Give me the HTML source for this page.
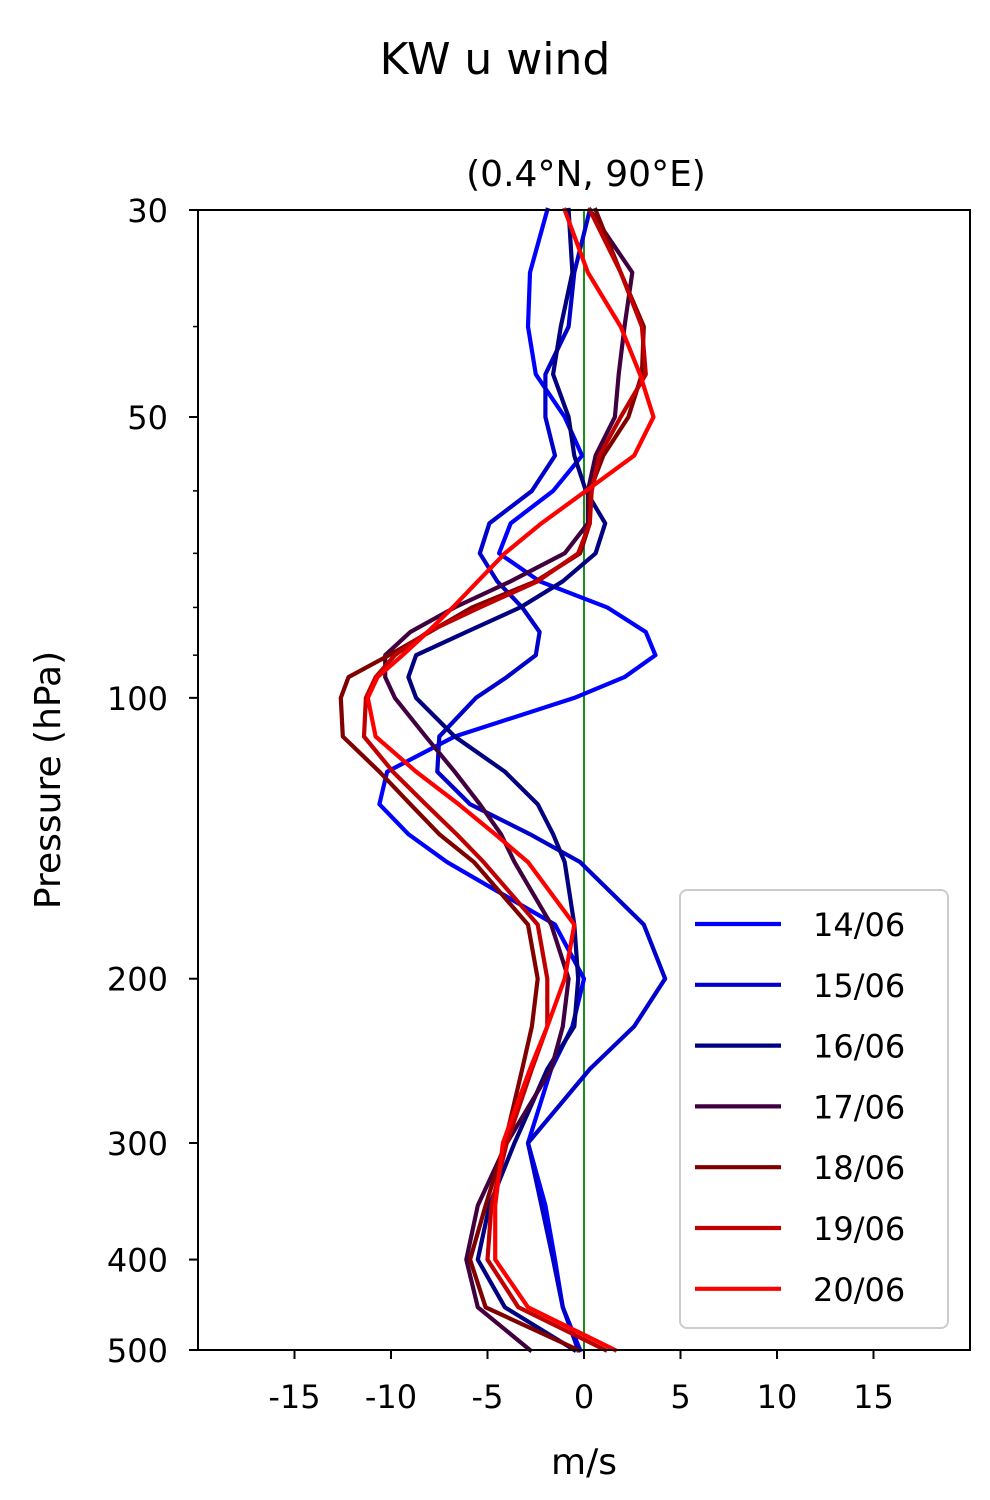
<!DOCTYPE html>
<html><head><meta charset="utf-8"><style>
body{margin:0;background:#fff;}
svg{display:block;font-family:"DejaVu Sans","Liberation Sans",sans-serif;}
</style></head><body>
<svg id="chart" width="990" height="1500" viewBox="0 0 990 1500">
<text x="495" y="74" font-size="44" text-anchor="middle">KW u wind</text>
<text x="586" y="186" font-size="36" text-anchor="middle">(0.4°N, 90°E)</text>
<text x="584" y="1474" font-size="36" text-anchor="middle">m/s</text>
<text transform="translate(60,780) rotate(-90)" font-size="36" text-anchor="middle">Pressure (hPa)</text>
<g id="plot"></g>
</svg>
<script>
const pressures=[30,35,40,45,50,55,60,65,70,75,80,85,90,95,100,110,120,130,140,150,175,200,225,250,300,350,400,450,500];
const dates=["14/06","15/06","16/06","17/06","18/06","19/06","20/06"];
const u14=[-1.9,-2.8,-2.9,-2.5,-1.0,-0.1,-1.6,-3.8,-4.4,-2.3,1.2,3.2,3.7,2.1,-0.5,-6.7,-10.2,-10.6,-9.1,-7.1,-1.5,0,-0.6,-1.7,-2.9,-2.0,-1.5,-1.1,-0.2];
const u15=[0.3,-0.5,-0.8,-2.0,-2.0,-1.5,-2.7,-4.9,-5.4,-4.5,-3.2,-2.3,-2.5,-4.0,-5.6,-7.5,-7.6,-5.9,-2.8,-0.2,3.1,4.2,2.6,0.3,-2.9,-2.2,-1.6,-1.1,-0.3];
const u16=[-0.8,-0.6,-1.2,-1.6,-0.8,-0.5,0.1,1.1,0.6,-1.1,-3.3,-6.1,-8.7,-9.1,-8.7,-6.7,-4.1,-2.4,-1.6,-1.0,-0.5,-0.3,-0.5,-1.9,-3.6,-4.9,-5.5,-4.1,-0.5];
const u17=[0.3,2.5,2.1,1.8,1.6,0.6,0.2,0.2,-1.0,-3.8,-6.7,-9.0,-10.3,-10.3,-9.8,-8.2,-6.7,-5.4,-4.3,-3.6,-1.7,-0.8,-1.1,-1.7,-4.0,-5.5,-6.1,-5.5,-2.8];
const u18=[0.6,1.9,3.1,3.0,2.3,1.0,0.3,0.3,-0.2,-2.5,-5.8,-8.0,-10.1,-12.2,-12.6,-12.5,-10.6,-9.0,-7.5,-5.7,-2.9,-2.4,-2.7,-3.2,-4.1,-5.1,-5.9,-5.1,-0.3];
const u19=[0.3,1.9,3.0,3.2,1.9,0.8,0.4,0.3,-0.3,-2.4,-5.4,-8.1,-9.8,-10.8,-11.3,-11.4,-9.9,-8.2,-6.6,-5.2,-2.4,-1.9,-1.9,-2.7,-4.0,-4.8,-5.0,-3.4,1.1];
const u20=[-1.0,0.2,1.9,2.9,3.6,2.6,0.1,-2.2,-4.1,-5.5,-6.8,-8.1,-9.4,-10.7,-11.2,-10.8,-8.7,-6.5,-4.6,-2.9,-0.5,-1.0,-1.9,-2.8,-4.2,-4.6,-4.6,-2.9,1.6];
const xTicks=[-15,-10,-5,0,5,10,15];
const xTickLabels=["-15","-10","-5","0","5","10","15"];
const yTicks=[30,50,100,200,300,400,500];
const yMinor=[40,60,70,80,90];

const NS="http://www.w3.org/2000/svg";
const L=198,R=970,T=210,B=1350,xmin=-20,xmax=20,pmin=30,pmax=500;
function sx(u){return L+(u-xmin)/(xmax-xmin)*(R-L);}
function sy(p){return T+Math.log(p/pmin)/Math.log(pmax/pmin)*(B-T);}
const g=document.getElementById('plot');
function mk(tag,attrs,parent){const e=document.createElementNS(NS,tag);for(const k in attrs)e.setAttribute(k,attrs[k]);(parent||g).appendChild(e);return e;}

const colors=["#0000ff","#0000cc","#000080","#400040","#800000","#c00000","#ff0000"];
const series=[u14,u15,u16,u17,u18,u19,u20];

const zl=mk('line',{x1:sx(0),x2:sx(0),y1:T,y2:B,stroke:'#008000','stroke-width':1.8});



series.forEach((s,i)=>{
  const pts=s.map((u,j)=>sx(u).toFixed(1)+','+sy(pressures[j]).toFixed(1)).join(' ');
  const pl=mk('polyline',{points:pts,fill:'none',stroke:colors[i],'stroke-width':4.2,'stroke-linejoin':'round','stroke-linecap':'square'});
  
  
});

const fr=mk('rect',{x:L,y:T,width:R-L,height:B-T,fill:'none',stroke:'#000','stroke-width':2});



xTicks.forEach((t,i)=>{
  const tk=mk('line',{x1:sx(t),x2:sx(t),y1:B,y2:B+9,stroke:'#000','stroke-width':2});
  
  
  const tx=mk('text',{x:sx(t),y:B+58,'font-size':32,'text-anchor':'middle'});
  tx.textContent=xTickLabels[i];
  
  
});
yTicks.forEach(p=>{
  const tk=mk('line',{x1:L-9,x2:L,y1:sy(p),y2:sy(p),stroke:'#000','stroke-width':2});
  
  
  const tx=mk('text',{x:L-30,y:sy(p)+12,'font-size':32,'text-anchor':'end'});
  tx.textContent=String(p);
  
  
});
yMinor.forEach(p=>{
  const tk=mk('line',{x1:L-5,x2:L,y1:sy(p),y2:sy(p),stroke:'#000','stroke-width':1.5});
  
  
});

const lg=mk('g',{});


mk('rect',{x:680,y:890,width:268,height:438,rx:7,fill:'#fff','fill-opacity':0.8,stroke:'#ccc','stroke-width':2},lg);
dates.forEach((d,i)=>{
  const y=924+i*60.8;
  const ln=mk('line',{x1:695,x2:781,y1:y,y2:y,stroke:colors[i],'stroke-width':4.2},lg);
  
  
  const tx=mk('text',{x:813,y:y+12,'font-size':32},lg);
  tx.textContent=d;
  
  
});
</script>
</body></html>
